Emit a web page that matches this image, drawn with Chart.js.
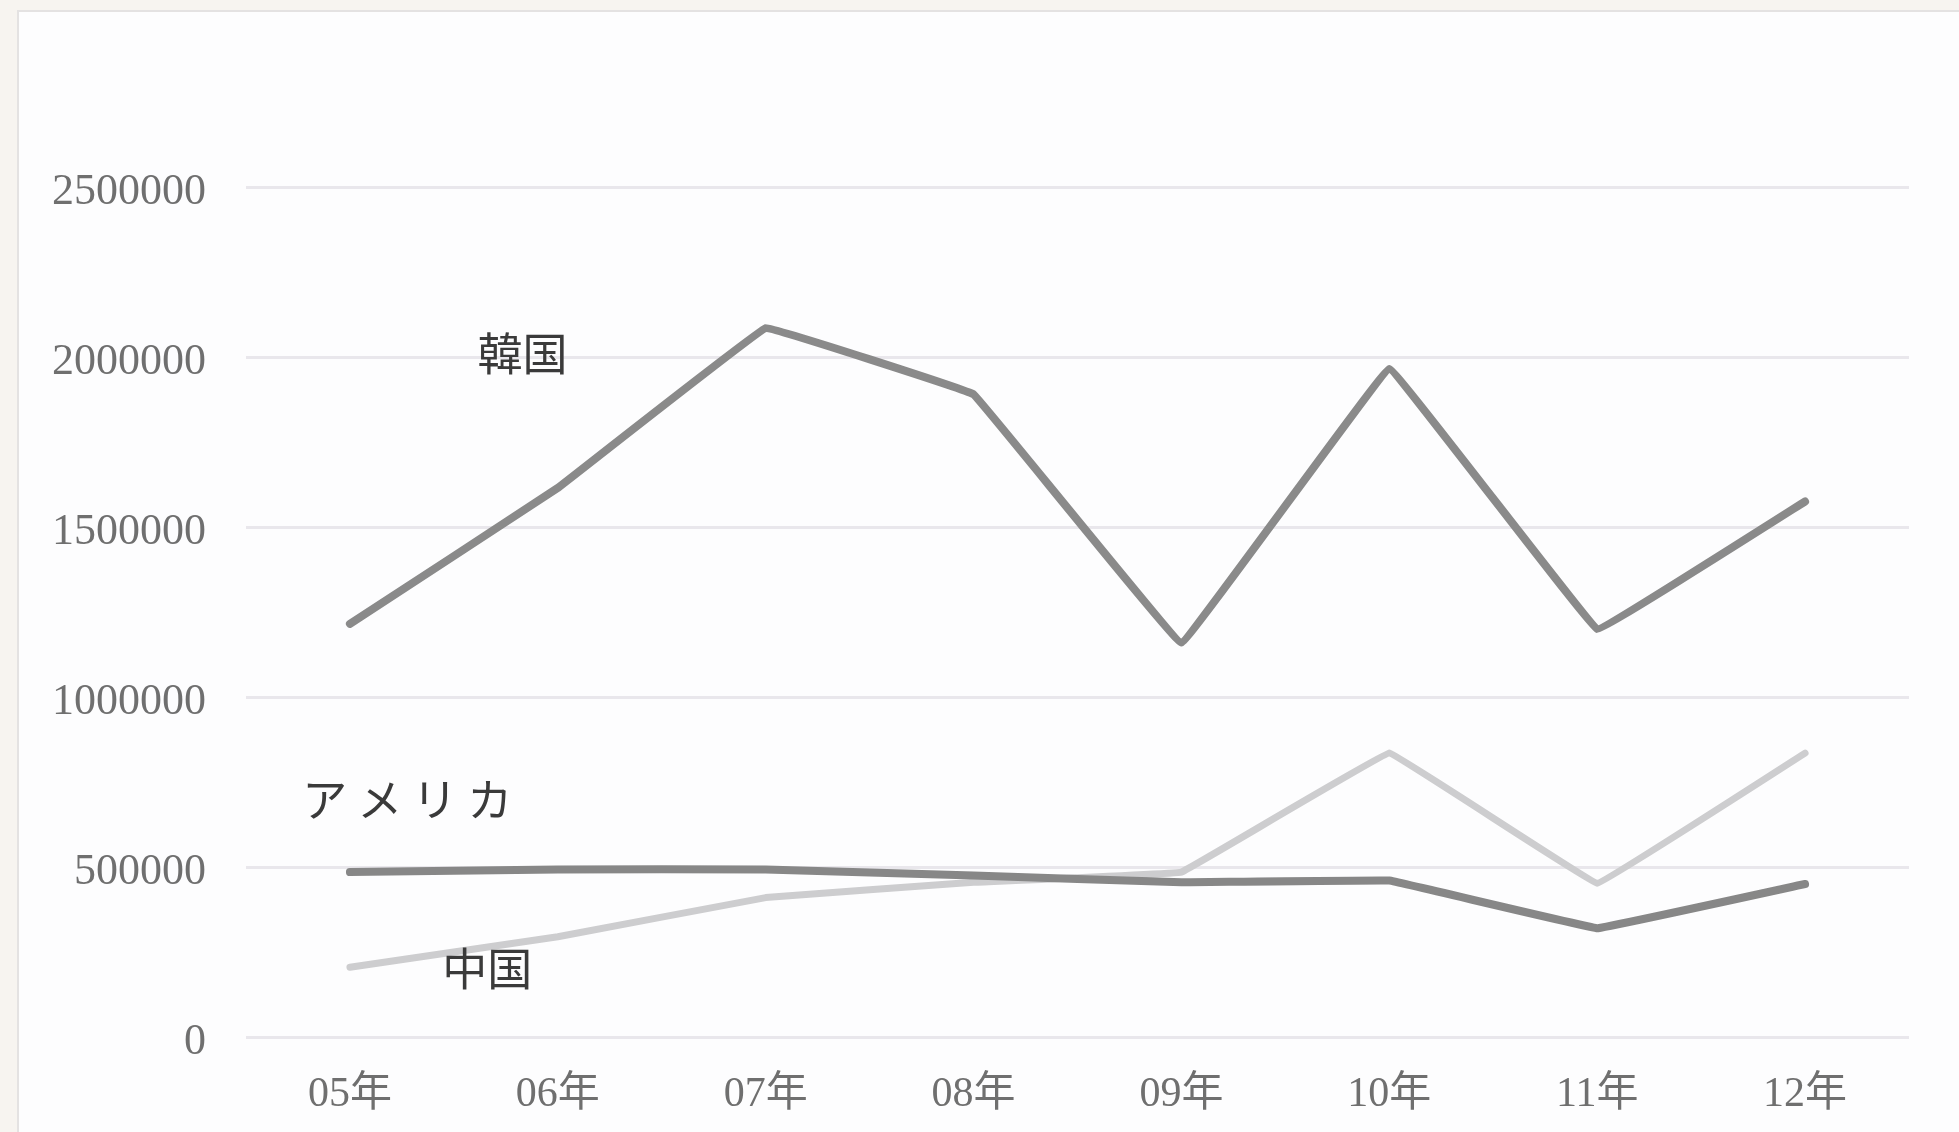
<!DOCTYPE html>
<html>
<head>
<meta charset="utf-8">
<script src="https://cdn.jsdelivr.net/npm/chart.js@4.4.1/dist/chart.umd.min.js"></script>
<style>
    html, body { margin: 0; padding: 0; overflow: hidden; background: #f7f4f0; }
    .card {
        position: absolute; left: 17px; top: 10px; width: 1960px; height: 1160px;
        background: #fdfdfe; border: 2px solid #e4e2e2; box-sizing: border-box;
    }
    #wrap { position: absolute; left: 0; top: 0; width: 1959px; height: 1132px; }
</style>
</head>
<body>
<div class="card"></div>
<div id="wrap"><canvas id="lineChart"></canvas></div>
<script>
// data
const years = ['05年', '06年', '07年', '08年', '09年', '10年', '11年', '12年'];
const korea = [1215000, 1615000, 2085000, 1890000, 1160000, 1965000, 1200000, 1575000];
const usa = [485000, 493000, 493000, 475000, 455000, 460000, 320000, 450000];
const china = [205000, 295000, 410000, 455000, 485000, 835000, 452000, 835000];
const yTicks = [0, 500000, 1000000, 1500000, 2000000, 2500000];

const serif = '"Liberation Serif", "DejaVu Serif", "Noto Sans CJK JP", serif';

// series names written inside the plot, anchored in data space
const seriesNames = {
    id: 'seriesNames',
    afterDatasetsDraw(chart, args, opts) {
        const { ctx, scales: { x, y } } = chart;
        ctx.save();
        ctx.font = '45px "Noto Sans CJK JP", sans-serif';
        ctx.fillStyle = '#3a3a3a';
        ctx.textAlign = 'center';
        ctx.textBaseline = 'middle';
        opts.items.forEach(function (it) {
            const px = x.getPixelForValue(it.at[0]);
            const py = y.getPixelForValue(it.at[1]);
            ctx.letterSpacing = (it.spacing || 0) + 'px';
            ctx.fillText(it.text, px, py);
        });
        ctx.restore();
    }
};

new Chart(document.getElementById('lineChart'), {
    type: 'line',
    data: {
        labels: years,
        datasets: [{
            label: '韓国',
            data: korea,
            borderColor: '#8a8a8a',
            borderWidth: 8
        }, {
            label: 'アメリカ',
            data: usa,
            borderColor: '#878787',
            borderWidth: 8
        }, {
            label: '中国',
            data: china,
            borderColor: '#cdcdcf',
            borderWidth: 7
        }]
    },
    plugins: [seriesNames],
    options: {
        responsive: true,
        maintainAspectRatio: false,
        animation: false,
        layout: { padding: { top: 187, right: 50, bottom: 0, left: 0 } },
        elements: {
            point: { radius: 0 },
            line: { tension: 0.03, borderCapStyle: 'round', borderJoinStyle: 'round' }
        },
        plugins: {
            legend: { display: false },
            tooltip: { enabled: false },
            seriesNames: {
                items: [
                    { text: '韓国', at: [0.83, 2010000] },
                    { text: 'アメリカ', at: [0.3, 697000], spacing: 10 },
                    { text: '中国', at: [0.66, 200000] }
                ]
            }
        },
        scales: {
            x: {
                offset: true,
                grid: { display: false, drawTicks: false },
                border: { display: false },
                ticks: { color: '#6f6f6f', font: { family: serif, size: 42 }, padding: 33 },
                afterFit: function (scale) { scale.height = 95; }
            },
            y: {
                min: 0,
                max: 2500000,
                afterBuildTicks: function (scale) {
                    scale.ticks = yTicks.map(function (v) { return { value: v }; });
                },
                grid: { color: '#e9e7ec', lineWidth: 3, drawTicks: false },
                border: { display: false },
                ticks: {
                    color: '#6f6f6f',
                    font: { family: serif, size: 44 },
                    padding: 40,
                    labelOffset: 5,
                    callback: function (v) { return String(v); }
                },
                afterFit: function (scale) { scale.width = 246; }
            }
        }
    }
});
</script>
</body>
</html>
